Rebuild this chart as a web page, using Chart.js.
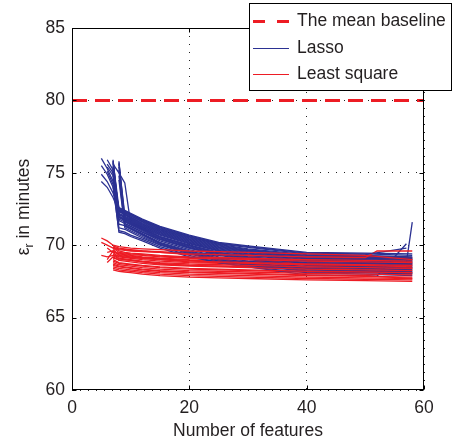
<!DOCTYPE html>
<html>
<head>
<meta charset="utf-8">
<script src="https://cdn.jsdelivr.net/npm/chart.js@4.4.0/dist/chart.umd.min.js"></script>
<style>
body { margin: 0; background: #fff; }
#wrap { width: 454px; height: 442px; }
</style>
</head>
<body>
<div id="wrap"><canvas id="myChart" width="454" height="442"></canvas></div>
<script>
// number of features at which each run was evaluated (columns of the run arrays)
var featureCounts = [5, 6, 7, 8, 9, 10, 12, 15, 20, 25, 30, 40, 50, 52, 57, 58];
var baselineValue = 80;
var seriesNames = ['The mean baseline', 'Lasso', 'Least square'];
var xTicks = [0, 20, 40, 60];
var yTicks = [60, 65, 70, 75, 80, 85];
var xTitle = 'Number of features';
var yTitle = ['\u03b5', 'r', ' in minutes'];   // epsilon, subscript r, rest

var n = null;
// error in minutes, one row per run (null = run not evaluated at that size)
var lassoRuns = [
  [76.0, 75.3, 74.4, 72.6, 72.4, 72.2, 71.8, 71.3, 70.7, 70.2, 69.95, 69.5, 69.45, n, n, 69.4],
  [75.5, 74.9, 74.0, 72.5, 72.3, 72.1, 71.7, 71.2, 70.6, 70.1, 69.85, 69.4, 69.3, n, n, 69.2],
  [74.9, 74.4, 73.6, 72.4, 72.2, 72.0, 71.6, 71.1, 70.5, 70.0, 69.7, 69.3, 69.2, n, n, 69.1],
  [74.4, 74.0, 73.3, 72.3, 72.1, 71.9, 71.5, 71.0, 70.4, 69.9, 69.6, 69.2, 69.1, n, n, 69.0],
  [n, 75.9, 75.2, 72.2, 72.0, 71.8, 71.4, 70.9, 70.3, 69.8, 69.5, 69.1, 69.0, n, n, 68.9],
  [n, 75.6, 75.0, 72.1, 71.9, 71.7, 71.3, 70.8, 70.2, 69.7, 69.4, 69.0, 68.9, n, n, 68.8],
  [n, n, 75.9, 72.0, 71.8, 71.6, 71.2, 70.7, 70.1, 69.6, 69.3, 68.9, 68.8, n, n, 68.7],
  [n, n, 75.6, 75.0, 74.3, 71.5, 71.1, 70.6, 70.0, 69.5, 69.2, 68.8, 68.7, n, n, 68.6],
  [n, n, 75.4, 71.9, 71.7, 71.5, 71.1, 70.5, 69.9, 69.4, 69.1, 68.75, 68.6, n, n, 68.5],
  [n, n, 75.2, 71.8, 71.6, 71.4, 71.0, 70.4, 69.8, 69.3, 69.0, 68.6, 68.5, n, n, 68.4],
  [n, n, n, 75.8, 71.5, 71.3, 70.9, 70.3, 69.7, 69.2, 68.9, 68.5, 68.4, n, n, 68.3],
  [n, n, n, 75.4, 71.4, 71.2, 70.8, 70.2, 69.6, 69.1, 68.8, 68.4, 68.3, n, n, 68.2],
  [n, n, n, 74.8, 71.3, 71.1, 70.7, 70.1, 69.5, 69.0, 68.7, 68.3, 68.2, n, n, 68.1],
  [n, n, 74.6, 71.2, 71.1, 70.9, 70.5, 70.0, 69.4, 68.9, 68.6, 68.2, 68.1, n, n, 68.0],
  [n, n, 74.0, 71.0, 70.9, 70.7, 70.4, 69.9, 69.3, 68.8, 68.5, 68.1, 68.0, n, n, 67.9],
  [n, 75.1, 74.2, 70.9, 70.8, 70.6, 70.3, 69.8, 69.2, 68.8, 68.5, 67.95, 67.9, 67.87, 70.1, n],
  [n, n, 75.3, 72.0, 71.8, 71.6, 71.2, 70.6, 70.0, 69.5, 69.2, 68.9, 68.8, n, 68.8, 71.6],
  [n, n, 75.7, 71.7, 71.5, 71.3, 70.9, 70.4, 69.8, 69.4, 69.3, 69.2, 69.35, n, 69.8, n],
  [n, n, 75.8, 72.55, 72.35, 72.15, 71.75, 71.25, 70.65, 70.15, 69.9, 69.45, 69.4, n, n, 69.3],
  [n, 75.4, 74.8, 72.45, 72.25, 72.05, 71.65, 71.15, 70.55, 70.05, 69.75, 69.35, 69.25, n, n, 69.15],
  [n, n, 75.5, 72.35, 72.15, 71.95, 71.55, 71.05, 70.45, 69.95, 69.65, 69.25, 69.15, n, n, 69.05],
  [n, n, n, 75.6, 72.1, 71.85, 71.45, 70.95, 70.35, 69.85, 69.55, 69.15, 69.05, n, n, 68.95],
  [n, n, 75.8, 72.15, 71.95, 71.75, 71.35, 70.85, 70.25, 69.75, 69.45, 69.05, 68.95, n, n, 68.85],
  [n, n, n, 75.7, 71.85, 71.65, 71.25, 70.75, 70.15, 69.65, 69.35, 68.95, 68.85, n, n, 68.75],
  [n, n, 75.0, 71.95, 71.75, 71.55, 71.15, 70.55, 69.95, 69.45, 69.15, 68.8, 68.65, n, n, 68.55],
  [n, n, n, 75.2, 71.65, 71.45, 71.05, 70.45, 69.85, 69.35, 69.05, 68.65, 68.55, n, n, 68.45],
  [n, n, 74.8, 71.45, 71.35, 71.15, 70.75, 70.15, 69.55, 69.05, 68.75, 68.35, 68.25, n, n, 68.15],
  [n, n, n, 74.5, 71.2, 71.0, 70.6, 70.05, 69.45, 68.95, 68.65, 68.25, 68.15, n, n, 68.05]
];
var leastSquareRuns = [
  [70.5, 70.3, 70.0, 69.9, 69.85, 69.8, 69.75, 69.7, 69.6, 69.55, 69.5, 69.4, 69.3, n, n, 69.0],
  [70.2, 70.0, 69.8, 69.7, 69.65, 69.6, 69.55, 69.5, 69.4, 69.35, 69.3, 69.2, 69.15, 69.6, n, 69.6],
  [n, 69.8, 69.5, 69.45, 69.4, 69.35, 69.3, 69.2, 69.1, 69.05, 69.0, 68.9, 68.85, n, n, 68.8],
  [69.3, 69.2, 69.3, 69.25, 69.2, 69.15, 69.1, 69.0, 68.9, 68.85, 68.8, 68.7, 68.65, n, n, 68.6],
  [n, n, 69.9, 69.6, 69.5, 69.45, 69.4, 69.3, 69.2, 69.15, 69.1, 69.0, 68.95, n, n, 68.9],
  [n, n, 69.7, 69.3, 69.25, 69.2, 69.1, 69.0, 68.85, 68.8, 68.75, 68.65, 68.6, n, n, 68.5],
  [n, n, 69.4, 69.1, 69.05, 69.0, 68.9, 68.8, 68.7, 68.65, 68.6, 68.5, 68.45, n, n, 68.4],
  [n, 68.8, 69.2, 68.95, 68.9, 68.85, 68.75, 68.65, 68.55, 68.5, 68.45, 68.35, 68.3, n, n, 68.25],
  [n, n, 69.0, 68.8, 68.75, 68.7, 68.6, 68.5, 68.4, 68.35, 68.3, 68.2, 68.15, n, n, 68.1],
  [n, n, 68.8, 68.65, 68.6, 68.55, 68.45, 68.35, 68.25, 68.2, 68.15, 68.05, 68.0, n, n, 67.95],
  [n, n, 68.6, 68.5, 68.45, 68.4, 68.3, 68.2, 68.1, 68.05, 68.0, 67.9, 67.85, n, n, 67.8],
  [n, n, 68.4, 68.3, 68.25, 68.2, 68.1, 68.0, 67.9, 67.85, 67.8, 67.7, 67.65, n, n, 67.6],
  [n, n, 68.3, 68.2, 68.15, 68.1, 68.0, 67.9, 67.8, 67.75, 67.7, 67.6, 67.55, n, n, 67.5],
  [n, n, 69.95, 69.8, 69.75, 69.7, 69.6, 69.5, 69.35, 69.3, 69.25, 69.15, 69.1, n, n, 69.0],
  [n, n, 69.1, 69.0, 68.98, 68.95, 68.85, 68.75, 68.6, 68.55, 68.5, 68.4, 68.35, n, n, 68.3],
  [n, n, 68.7, 68.55, 68.5, 68.45, 68.35, 68.25, 68.15, 68.1, 68.05, 67.95, 67.9, n, n, 67.7],
  [n, n, 69.85, 69.75, 69.7, 69.65, 69.6, 69.55, 69.45, 69.4, 69.35, 69.25, 69.2, n, n, 69.1],
  [n, n, 69.8, 69.5, 69.45, 69.4, 69.35, 69.25, 69.15, 69.1, 69.05, 68.95, 68.9, n, n, 68.85],
  [n, 69.5, 69.6, 69.4, 69.35, 69.3, 69.2, 69.1, 69.0, 68.95, 68.9, 68.8, 68.75, n, n, 68.7],
  [n, n, 69.5, 69.2, 69.15, 69.1, 69.0, 68.9, 68.8, 68.75, 68.7, 68.55, 68.5, n, n, 68.45],
  [n, n, 69.3, 69.05, 69.0, 68.95, 68.85, 68.7, 68.6, 68.55, 68.5, 68.45, 68.4, n, n, 68.35],
  [n, n, 68.9, 68.75, 68.7, 68.65, 68.55, 68.45, 68.35, 68.3, 68.25, 68.15, 68.1, n, n, 68.05],
  [n, n, 68.5, 68.4, 68.35, 68.3, 68.2, 68.1, 68.0, 67.95, 67.9, 67.8, 67.75, n, n, 67.7],
  [n, 69.0, 69.6, 69.35, 69.3, 69.25, 69.15, 69.05, 68.95, 68.9, 68.85, 68.75, 68.7, n, n, 68.65]
];

var blue = '#2b3192';
var red = '#ed1c24';
var textColor = '#231f20';
var fontFamily = '"Liberation Sans", Arial, sans-serif';
var fontSize = 17.5;

function toPoints(run) {
  var pts = [];
  for (var i = 0; i < run.length; i++) {
    if (run[i] !== null) pts.push({ x: featureCounts[i], y: run[i] });
  }
  return pts;
}

var datasets = [];
datasets.push({
  label: seriesNames[0],
  data: [{ x: xTicks[0], y: baselineValue }, { x: xTicks[xTicks.length - 1], y: baselineValue }],
  borderColor: red, borderWidth: 3, borderDash: [15, 8]
});
// interleave the two families so they overlap like the original
var longest = Math.max(lassoRuns.length, leastSquareRuns.length);
for (var k = 0; k < longest; k++) {
  if (leastSquareRuns[k]) datasets.push({ label: seriesNames[2], data: toPoints(leastSquareRuns[k]), borderColor: red, borderWidth: 1.3 });
  if (lassoRuns[k]) datasets.push({ label: seriesNames[1], data: toPoints(lassoRuns[k]), borderColor: blue, borderWidth: 1.3 });
}

// box round the plot with inward ticks, matlab style
var framePlugin = {
  id: 'frame',
  afterDatasetsDraw: function (chart) {
    var ctx = chart.ctx, a = chart.chartArea;
    var xs = chart.scales.x, ys = chart.scales.y;
    var l = Math.round(a.left) + 0.5, r = Math.round(a.right) - 0.5;
    var t = Math.round(a.top) + 0.5, b = Math.round(a.bottom) - 0.5;
    ctx.save();
    ctx.strokeStyle = '#000';
    ctx.lineWidth = 1;
    ctx.setLineDash([]);
    ctx.strokeRect(l, t, r - l, b - t);
    ctx.beginPath();
    xTicks.forEach(function (v) {
      var px = Math.round(xs.getPixelForValue(v)) + 0.5;
      ctx.moveTo(px, b); ctx.lineTo(px, b - 4);
      ctx.moveTo(px, t); ctx.lineTo(px, t + 4);
    });
    yTicks.forEach(function (v) {
      var py = Math.round(ys.getPixelForValue(v)) + 0.5;
      ctx.moveTo(l, py); ctx.lineTo(l + 4, py);
      ctx.moveTo(r, py); ctx.lineTo(r - 4, py);
    });
    ctx.stroke();
    ctx.restore();
  }
};

// y title with a real subscript r
var yTitlePlugin = {
  id: 'yTitle',
  afterDraw: function (chart) {
    var ctx = chart.ctx, a = chart.chartArea;
    var big = fontSize + 'px ' + fontFamily, small = '12px ' + fontFamily;
    ctx.save();
    ctx.fillStyle = textColor;
    ctx.textBaseline = 'alphabetic';
    ctx.font = big;
    var w0 = ctx.measureText(yTitle[0]).width;
    var w2 = ctx.measureText(yTitle[2]).width;
    ctx.font = small;
    var w1 = ctx.measureText(yTitle[1]).width;
    var total = w0 + w1 + w2;
    ctx.translate(29, (a.top + a.bottom) / 2 - 2);
    ctx.rotate(-Math.PI / 2);
    var x0 = -total / 2;
    ctx.font = big;
    ctx.fillText(yTitle[0], x0, 0);
    ctx.font = small;
    ctx.fillText(yTitle[1], x0 + w0, 4);
    ctx.font = big;
    ctx.fillText(yTitle[2], x0 + w0 + w1, 0);
    ctx.restore();
  }
};

// legend box sitting over the top right corner
var legendPlugin = {
  id: 'boxLegend',
  afterDraw: function (chart) {
    var ctx = chart.ctx;
    var box = { left: 249.5, top: 3.5, right: 451.5, bottom: 90.5 };
    var rows = [
      { text: seriesNames[0], color: red, width: 3, dash: [12, 12], y: 21 },
      { text: seriesNames[1], color: blue, width: 1, dash: [], y: 48 },
      { text: seriesNames[2], color: red, width: 1, dash: [], y: 74 }
    ];
    ctx.save();
    ctx.fillStyle = '#fff';
    ctx.fillRect(box.left, box.top, box.right - box.left, box.bottom - box.top);
    ctx.strokeStyle = '#000';
    ctx.lineWidth = 1;
    ctx.strokeRect(box.left, box.top, box.right - box.left, box.bottom - box.top);
    rows.forEach(function (row) {
      ctx.beginPath();
      ctx.strokeStyle = row.color;
      ctx.lineWidth = row.width;
      ctx.setLineDash(row.dash);
      ctx.moveTo(253, row.y + 0.5);
      ctx.lineTo(289, row.y + 0.5);
      ctx.stroke();
      ctx.setLineDash([]);
      ctx.fillStyle = textColor;
      ctx.font = fontSize + 'px ' + fontFamily;
      ctx.textBaseline = 'middle';
      ctx.fillText(row.text, 297, row.y);
    });
    ctx.restore();
  }
};

var ctx = document.getElementById('myChart').getContext('2d');
var myChart = new Chart(ctx, {
  type: 'line',
  data: { datasets: datasets },
  options: {
    responsive: false,
    animation: false,
    devicePixelRatio: 1,
    layout: { padding: { top: 28, right: 30, left: 0, bottom: 0 } },
    elements: { point: { radius: 0 }, line: { tension: 0, fill: false } },
    plugins: { legend: { display: false }, tooltip: { enabled: false } },
    scales: {
      x: {
        type: 'linear', min: xTicks[0], max: xTicks[xTicks.length - 1],
        afterBuildTicks: function (s) { s.ticks = xTicks.map(function (v) { return { value: v }; }); },
        afterFit: function (s) { s.height = 52; },
        ticks: { color: textColor, padding: 8, maxRotation: 0, font: { family: fontFamily, size: fontSize } },
        grid: { color: '#222', lineWidth: 1, drawTicks: false },
        border: { display: false, dash: [1, 7] },
        title: { display: true, text: xTitle, color: textColor, padding: 0, font: { family: fontFamily, size: fontSize } }
      },
      y: {
        type: 'linear', min: yTicks[0], max: yTicks[yTicks.length - 1],
        afterBuildTicks: function (s) { s.ticks = yTicks.map(function (v) { return { value: v }; }); },
        afterFit: function (s) { s.width = 72; },
        ticks: { color: textColor, padding: 7, font: { family: fontFamily, size: fontSize } },
        grid: { color: '#222', lineWidth: 1, drawTicks: false },
        border: { display: false, dash: [1, 7] }
      }
    }
  },
  plugins: [framePlugin, yTitlePlugin, legendPlugin]
});
</script>
</body>
</html>
